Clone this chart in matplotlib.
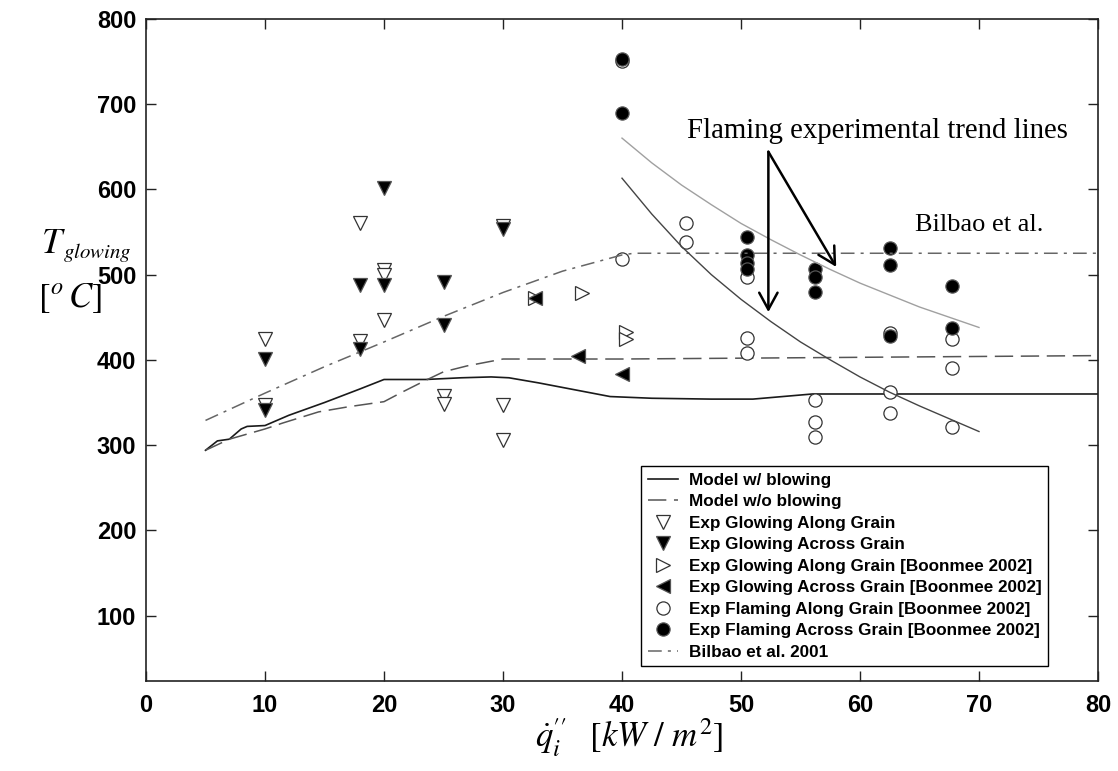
import matplotlib
matplotlib.use("Agg")
import matplotlib.pyplot as plt
from matplotlib.ticker import MultipleLocator

plt.rcParams['mathtext.fontset'] = 'stix'

# --- model curves -------------------------------------------------------
x_blow = [5, 6, 7, 8, 8.5, 10, 12, 15, 18, 20, 23.5, 26.5, 29, 30.5, 33, 36,
          39, 42.5, 47.5, 51, 53.5, 56, 60, 70, 80]
T_blow = [294, 305, 307, 319, 322, 323, 335, 350, 366, 377, 377, 379, 380, 379,
          373, 365, 357, 355, 354, 354, 357, 360, 360, 360, 360]

x_noblow = [5, 7, 10, 11.5, 14.5, 17, 20, 21.5, 23.5, 25, 27, 30, 33, 40, 50,
            60, 70, 80]
T_noblow = [294, 307, 319, 326, 339, 345, 351, 362, 376, 386, 393, 401, 401,
            401, 402, 403, 404, 405]

x_bilbao = [5, 10, 15, 20, 25, 30, 35, 40, 41, 80]
T_bilbao = [329, 361, 392, 421, 451, 479, 504, 523, 525, 525]

# --- flaming trend lines --------------------------------------------------
x_trend = [40, 42.5, 45, 47.5, 50, 52.5, 55, 57.5, 60, 62.5, 65, 67.5, 70]
T_trend_upper = [660, 631, 605, 582, 560, 541, 523, 506, 490, 476, 462, 450, 438]
T_trend_lower = [613, 571, 533, 500, 471, 445, 421, 400, 380, 362, 346, 331, 316]

# --- experiments ------------------------------------------------------------
glow_along_x = [10, 10, 18, 18, 20, 20, 20, 25, 25, 30, 30, 30]
glow_along_T = [425, 347, 560, 422, 505, 499, 447, 358, 348, 557, 347, 306]

glow_across_x = [10, 10, 18, 18, 20, 20, 25, 25, 30]
glow_across_T = [401, 341, 488, 413, 601, 488, 491, 441, 554]

bm_glow_along_x = [32.7, 36.6, 40.3, 40.3]
bm_glow_along_T = [472, 478, 433, 424]

bm_glow_across_x = [32.7, 36.3, 40.0]
bm_glow_across_T = [472, 404, 383]

flame_along_x = [40, 40, 45.4, 45.4, 50.5, 50.5, 50.5, 56.2, 56.2, 56.2,
                 62.5, 62.5, 62.5, 67.7, 67.7, 67.7]
flame_along_T = [750, 518, 561, 538, 497, 426, 408, 353, 327, 310,
                 432, 362, 338, 425, 390, 321]

flame_across_x = [40, 40, 50.5, 50.5, 50.5, 50.5, 56.2, 56.2, 56.2,
                  62.5, 62.5, 62.5, 67.7, 67.7]
flame_across_T = [753, 690, 544, 523, 514, 506, 506, 497, 479,
                  531, 511, 428, 487, 437]

fig = plt.figure(figsize=(11.18, 7.71), dpi=100)
ax = fig.add_axes([146 / 1118, 1 - 681 / 771, 952 / 1118, (681 - 18.7) / 771])

edge = '#333333'
ax.plot(x_blow, T_blow, color='#1a1a1a', lw=1.2, label='Model w/ blowing')
ax.plot(x_noblow, T_noblow, color='#555555', lw=1.1, dashes=(12, 5),
        label='Model w/o blowing')
ax.plot(glow_along_x, glow_along_T, ls='none', marker='v', ms=10,
        mfc='white', mec=edge, mew=0.9, label='Exp Glowing Along Grain')
ax.plot(glow_across_x, glow_across_T, ls='none', marker='v', ms=10,
        mfc='black', mec='#555555', mew=0.9, label='Exp Glowing Across Grain')
ax.plot(bm_glow_along_x, bm_glow_along_T, ls='none', marker='>', ms=10,
        mfc='white', mec=edge, mew=0.9,
        label='Exp Glowing Along Grain [Boonmee 2002]')
ax.plot(bm_glow_across_x, bm_glow_across_T, ls='none', marker='<', ms=10,
        mfc='black', mec='#555555', mew=0.9,
        label='Exp Glowing Across Grain [Boonmee 2002]')
ax.plot(flame_along_x, flame_along_T, ls='none', marker='o', ms=9.5,
        mfc='white', mec=edge, mew=0.9,
        label='Exp Flaming Along Grain [Boonmee 2002]')
ax.plot(flame_across_x, flame_across_T, ls='none', marker='o', ms=9.5,
        mfc='black', mec='#555555', mew=0.9,
        label='Exp Flaming Across Grain [Boonmee 2002]')
ax.plot(x_bilbao, T_bilbao, color='#666666', lw=1.1, dashes=(9, 4, 2, 4),
        label='Bilbao et al. 2001')

ax.plot(x_trend, T_trend_upper, color='#a0a0a0', lw=1.0)
ax.plot(x_trend, T_trend_lower, color='#444444', lw=1.0)

# annotation arrows pointing at the two trend lines
arrow = dict(arrowstyle='->,head_length=0.55,head_width=0.3', lw=1.8,
             color='black', shrinkA=0, shrinkB=0, mutation_scale=22)
ax.annotate('', xy=(52.3, 456), xytext=(52.3, 644), arrowprops=arrow)
ax.annotate('', xy=(58.0, 509), xytext=(52.3, 644), arrowprops=arrow)
ax.text(45.5, 660, 'Flaming experimental trend lines', family='Liberation Serif',
        fontsize=20.7, va='baseline', ha='left')
ax.text(64.6, 558, 'Bilbao et al.', family='Liberation Serif', fontsize=19,
        va='center', ha='left')

ax.set_xlim(0, 80)
ax.set_ylim(23.5, 800)
ax.xaxis.set_major_locator(MultipleLocator(10))
ax.yaxis.set_major_locator(MultipleLocator(100))
ax.tick_params(direction='in', length=7, width=1, top=True, right=True,
               labelsize=17, color='#222222')
ax.tick_params(axis='x', pad=9)
ax.tick_params(axis='y', pad=7)
for lab in ax.get_xticklabels() + ax.get_yticklabels():
    lab.set_fontfamily('Liberation Sans')
    lab.set_fontweight('bold')
for sp in ax.spines.values():
    sp.set_color('#222222')
    sp.set_linewidth(1.2)

leg = ax.legend(loc='upper left', bbox_to_anchor=(0.52, 0.3248),
                prop=dict(family='Liberation Sans', weight='bold', size=12.3),
                frameon=True, fancybox=False, framealpha=1, edgecolor='black',
                borderaxespad=0, borderpad=0.4, labelspacing=0.38,
                handlelength=1.75, handletextpad=0.65, numpoints=1)
leg.get_frame().set_linewidth(1.0)

# y-axis label: T with a small subscript, unit below
fig.text(41 / 1118, 1 - 243 / 771, r'$T$', fontsize=26, va='center', ha='left')
fig.text(63 / 1118, 1 - 252 / 771, r'$glowing$', fontsize=15, va='center',
         ha='left')
fig.text(38 / 1118, 1 - 298 / 771, r'$[^{o}\,C]$', fontsize=25,
         va='center', ha='left')
fig.text(629 / 1118, 1 - 738 / 771,
         r"$\dot{q}_i^{\prime\prime}\;\;\;[kW\ /\ m^2]$",
         fontsize=25, va='center', ha='center')

fig.savefig('out.png', dpi=100, facecolor='white')
